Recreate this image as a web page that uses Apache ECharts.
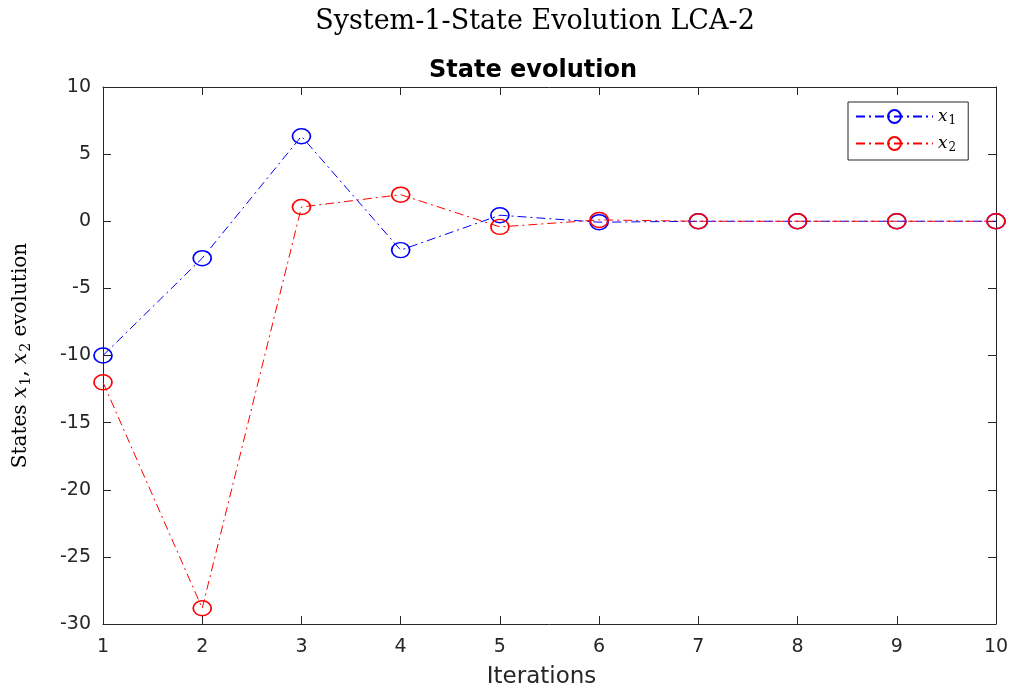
<!DOCTYPE html>
<html>
<head>
<meta charset="utf-8">
<script src="https://cdn.jsdelivr.net/npm/echarts@6/dist/echarts.min.js"></script>
<style>
  html, body { margin: 0; padding: 0; background: #fff; }
  #chart { width: 1013px; height: 691px; }
</style>
</head>
<body>
<div id="chart"></div>
<script>
// Iteration index and state trajectories
const iterations = [1, 2, 3, 4, 5, 6, 7, 8, 9, 10];
const x1Values = [-10, -2.75, 6.33, -2.15, 0.45, -0.07, 0, 0, 0, 0];
const x2Values = [-12, -28.83, 1.06, 1.98, -0.42, 0.1, 0, 0, 0, 0];

const axisColor = '#262626';
const sans = 'DejaVu Sans, Liberation Sans, Arial, sans-serif';
const serif = 'DejaVu Serif, Liberation Serif, serif';
const tickFont = { fontFamily: sans, fontSize: 19, color: '#262626' };
const dashDot = [9, 4, 2, 4];

function pairs(vals) { return iterations.map((it, i) => [it, vals[i]]); }

const chart = echarts.init(document.getElementById('chart'));
const commonX = {
  type: 'value', min: 1, max: 10, interval: 1,
  axisLine: { show: true, onZero: false, lineStyle: { color: axisColor, width: 1 } },
  axisTick: { show: true, inside: true, length: 8, lineStyle: { color: axisColor } },
  splitLine: { show: false }
};
const commonY = {
  type: 'value', min: -30, max: 10, interval: 5,
  axisLine: { show: true, onZero: false, lineStyle: { color: axisColor, width: 1 } },
  axisTick: { show: true, inside: true, length: 8, lineStyle: { color: axisColor } },
  splitLine: { show: false }
};

function stateSeries(name, vals, color) {
  return {
    name: name, type: 'line', data: pairs(vals),
    symbol: 'circle', symbolSize: [18, 15],
    itemStyle: { color: 'rgba(255,255,255,0)', borderColor: color, borderWidth: 1.6 },
    lineStyle: { color: color, width: 1, type: dashDot },
    emphasis: { disabled: true }
  };
}

chart.setOption({
  animation: false,
  backgroundColor: '#fff',
  title: [
    { text: 'System-1-State Evolution LCA-2', left: 530, top: 3, textAlign: 'center',
      textStyle: { fontFamily: serif, fontWeight: 'normal', fontSize: 27, color: '#000' } },
    { text: 'State evolution', left: 528, top: 54, textAlign: 'center',
      textStyle: { fontFamily: sans, fontWeight: 'bold', fontSize: 24, color: '#000' } }
  ],
  grid: { left: 103, right: 17, top: 87, bottom: 67, containLabel: false, outerBoundsMode: 'none' },
  legend: {
    left: 848, top: 102, orient: 'vertical', itemGap: 8,
    backgroundColor: '#fff', borderColor: axisColor, borderWidth: 1,
    padding: [6, 12, 6, 7], itemWidth: 77, itemHeight: 16,
    data: ['x1', 'x2'],
    itemStyle: { color: 'rgba(255,255,255,0)' },
    formatter: name => name === 'x1' ? '{v|x}{s|1}' : '{v|x}{s|2}',
    textStyle: {
      rich: {
        v: { fontFamily: serif, fontStyle: 'italic', fontSize: 17, color: '#000' },
        s: { fontFamily: serif, fontSize: 12, color: '#000', verticalAlign: 'bottom', padding: [9, 0, 0, 1] }
      }
    }
  },
  xAxis: [
    Object.assign({}, commonX, {
      position: 'bottom',
      axisLabel: Object.assign({ margin: 14 }, tickFont),
      name: 'Iterations', nameLocation: 'middle', nameGap: 42,
      nameTextStyle: { fontFamily: sans, fontSize: 23, color: '#262626', padding: [0, 16, 0, 0] }
    }),
    Object.assign({}, commonX, { position: 'top', axisLabel: { show: false } })
  ],
  yAxis: [
    Object.assign({}, commonY, {
      position: 'left',
      axisLabel: Object.assign({ margin: 12 }, tickFont),
      name: '{t|States }{v|x}{s|1}{t|, }{v|x}{s|2}{t| evolution}', nameLocation: 'middle', nameGap: 70,
      nameTextStyle: {
        rich: {
          t: { fontFamily: serif, fontSize: 20, color: '#000' },
          v: { fontFamily: serif, fontStyle: 'italic', fontSize: 20, color: '#000' },
          s: { fontFamily: serif, fontSize: 14, color: '#000', verticalAlign: 'bottom', padding: [10, 0, 0, 1] }
        }
      }
    }),
    Object.assign({}, commonY, { position: 'right', axisLabel: { show: false } })
  ],
  series: [
    stateSeries('x1', x1Values, '#0000ff'),
    stateSeries('x2', x2Values, '#ff0000')
  ]
});
</script>
</body>
</html>
